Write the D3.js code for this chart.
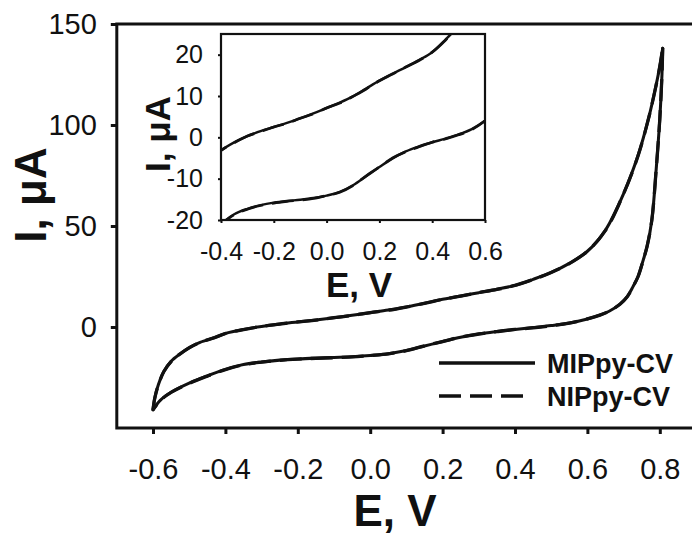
<!DOCTYPE html>
<html><head><meta charset="utf-8">
<script src="https://cdn.jsdelivr.net/npm/d3@7"></script>
<style>
body{margin:0;background:#fff}
svg{display:block}
text{font-family:"Liberation Sans",Arial,Helvetica,sans-serif;fill:#111}
</style>
</head><body>
<svg id="chart" width="692" height="535"></svg>
<script>
// ---- data (E in V, I in µA) ----
const potentialForward = [-0.600,-0.595,-0.585,-0.570,-0.550,-0.525,-0.500,-0.470,-0.430,-0.400,-0.350,-0.300,-0.250,-0.200,-0.150,-0.100,-0.050,0.000,0.050,0.100,0.150,0.200,0.250,0.300,0.350,0.400,0.450,0.500,0.550,0.600,0.650,0.700,0.740,0.770,0.790,0.800,0.808];
const mipForward = [-41,-35,-28.5,-22,-17,-13.3,-10.2,-7.6,-5.2,-3.2,-1.2,0.3,1.5,2.5,3.5,4.6,5.8,7.1,8.4,9.9,11.8,13.7,15.4,17.0,18.7,20.6,23.6,27.0,31.5,37.5,48,66,85,104,120,129,138];
const nipForward = [-41,-35.2,-28.6,-22,-17.1,-13.3,-10.3,-7.6,-5.3,-3.2,-1.3,0.3,1.4,2.5,3.4,4.6,5.7,7.1,8.3,9.9,11.7,13.7,15.3,17.0,18.6,20.6,23.5,27.0,31.4,37.5,47.8,66,84.8,104,119.8,129,138];
const potentialReverse = [0.808,0.806,0.800,0.790,0.778,0.765,0.754,0.740,0.726,0.710,0.690,0.660,0.635,0.600,0.550,0.500,0.450,0.400,0.350,0.300,0.250,0.200,0.150,0.100,0.050,0.000,-0.050,-0.100,-0.150,-0.200,-0.250,-0.300,-0.350,-0.400,-0.450,-0.500,-0.550,-0.580,-0.600];
const mipReverse = [138,125,103,78,53,40,33,25,20,15,11.3,7.8,6.0,4.0,2.0,0.7,-0.3,-1.2,-2.2,-3.4,-5.1,-7.2,-9.4,-11.6,-13.2,-14.1,-14.7,-15.1,-15.4,-15.8,-16.4,-17.3,-18.6,-21.0,-24.2,-27.8,-32.3,-36.3,-41];
const nipReverse = [138,125,103,78,53,40,33,25,20,15,11.3,7.8,5.9,4.0,1.9,0.6,-0.4,-1.2,-2.3,-3.5,-5.0,-7.2,-9.3,-11.7,-13.3,-14.1,-14.8,-15.2,-15.5,-15.9,-16.5,-17.4,-18.7,-21.1,-24.3,-27.9,-32.4,-36.4,-41];

const xTicks = [-0.6,-0.4,-0.2,0.0,0.2,0.4,0.6,0.8];
const yTicks = [0,50,100,150];
const insetXTicks = [-0.4,-0.2,0.0,0.2,0.4,0.6];
const insetYTicks = [-20,-10,0,10,20];
const seriesNames = ["MIPpy-CV","NIPpy-CV"];

// ---- drawing ----
const svg = d3.select("#chart");
const ink = "#111";

// main scales
const x = d3.scaleLinear().domain([-0.7, 0.9]).range([116.8, 696]);
const y = d3.scaleLinear().domain([-50, 150]).range([428, 24]);

const defs = svg.append("defs");
defs.append("clipPath").attr("id","mainClip").append("rect")
  .attr("x", x(-0.7)).attr("y", y(150)).attr("width", x(0.9)-x(-0.7)).attr("height", y(-50)-y(150));

// main axes
const xAxis = d3.axisBottom(x).tickValues(xTicks).tickSize(6).tickPadding(24);
const gx = svg.append("g").attr("transform", `translate(0,${y(-50)})`).call(xAxis);
const yAxis = d3.axisLeft(y).tickValues(yTicks).tickSize(6).tickPadding(14);
const gy = svg.append("g").attr("transform", `translate(${x(-0.7)},0)`).call(yAxis);
[gx, gy].forEach(g => {
  g.select(".domain").remove();
  g.selectAll(".tick line").attr("stroke", ink).attr("stroke-width", 3);
  g.selectAll(".tick text").attr("font-size", 29).attr("fill", ink)
    .text(d => (d < 0 ? "-" : "") + d3.format(g === gx ? ".1f" : "d")(Math.abs(d)));
});

// main frame
svg.append("rect")
  .attr("x", x(-0.7)).attr("y", y(150))
  .attr("width", x(0.9)-x(-0.7)).attr("height", y(-50)-y(150))
  .attr("fill","none").attr("stroke", ink).attr("stroke-width", 3);

// line generators
function branchPath(sx, sy, es, is){
  return d3.line().x((d,i)=>sx(es[i])).y(d=>sy(d)).curve(d3.curveCatmullRom.alpha(0.5))(is);
}
function drawLoop(g, sx, sy, width){
  // NIPpy (dashed) below, MIPpy (solid) on top
  [[nipForward, potentialForward],[nipReverse, potentialReverse]].forEach(([vals, es]) => {
    g.append("path").attr("d", branchPath(sx, sy, es, vals))
      .attr("fill","none").attr("stroke", ink).attr("stroke-width", width)
      .attr("stroke-dasharray","22,9").attr("stroke-linecap","butt");
  });
  [[mipForward, potentialForward],[mipReverse, potentialReverse]].forEach(([vals, es]) => {
    g.append("path").attr("d", branchPath(sx, sy, es, vals))
      .attr("fill","none").attr("stroke", ink).attr("stroke-width", width*0.92)
      .attr("stroke-linecap","round").attr("stroke-linejoin","round");
  });
}
drawLoop(svg.append("g").attr("clip-path","url(#mainClip)"), x, y, 3.3);

// axis titles
svg.append("text").attr("x", 395).attr("y", 526).attr("text-anchor","middle")
  .attr("font-size", 44).attr("font-weight","bold").text("E, V");
svg.append("text").attr("transform","translate(46,195) rotate(-90)").attr("text-anchor","middle")
  .attr("font-size", 44).attr("font-weight","bold").text("I, μA");

// legend
const legend = svg.append("g");
const legendRows = [{y: 363, dash: null}, {y: 396, dash: "22,9"}];
seriesNames.forEach((name, i) => {
  const r = legendRows[i];
  legend.append("line").attr("x1", 439).attr("x2", i === 0 ? 535 : 527)
    .attr("y1", r.y).attr("y2", r.y).attr("stroke", ink).attr("stroke-width", 3.6)
    .attr("stroke-dasharray", r.dash);
  legend.append("text").attr("x", 547).attr("y", r.y + 9.5)
    .attr("font-size", 27).attr("font-weight","bold").text(name);
});

// ---- inset ----
const ix = d3.scaleLinear().domain([-0.4, 0.6]).range([221, 485]);
const iy = d3.scaleLinear().domain([-20, 25]).range([220, 34]);
defs.append("clipPath").attr("id","insetClip").append("rect")
  .attr("x", ix(-0.4)).attr("y", iy(25)).attr("width", ix(0.6)-ix(-0.4)).attr("height", iy(-20)-iy(25));

svg.append("rect").attr("x", ix(-0.4)).attr("y", iy(25))
  .attr("width", ix(0.6)-ix(-0.4)).attr("height", iy(-20)-iy(25)).attr("fill","#fff");

drawLoop(svg.append("g").attr("clip-path","url(#insetClip)"), ix, iy, 2.7);

const ixAxis = d3.axisBottom(ix).tickValues(insetXTicks).tickSize(3).tickPadding(19);
const igx = svg.append("g").attr("transform", `translate(0,${iy(-20)})`).call(ixAxis);
const iyAxis = d3.axisLeft(iy).tickValues(insetYTicks).tickSize(3).tickPadding(15);
const igy = svg.append("g").attr("transform", `translate(${ix(-0.4)},0)`).call(iyAxis);
[igx, igy].forEach(g => {
  g.select(".domain").remove();
  g.selectAll(".tick line").attr("stroke", ink).attr("stroke-width", 2);
  g.selectAll(".tick text").attr("font-size", 25).attr("fill", ink)
    .text(d => (d < 0 ? "-" : "") + d3.format(g === igx ? ".1f" : "d")(Math.abs(d)));
});
svg.append("rect").attr("x", ix(-0.4)).attr("y", iy(25))
  .attr("width", ix(0.6)-ix(-0.4)).attr("height", iy(-20)-iy(25))
  .attr("fill","none").attr("stroke", ink).attr("stroke-width", 2.2);

svg.append("text").attr("x", 359).attr("y", 297).attr("text-anchor","middle")
  .attr("font-size", 35).attr("font-weight","bold").text("E, V");
svg.append("text").attr("transform","translate(170,134) rotate(-90)").attr("text-anchor","middle")
  .attr("font-size", 35).attr("font-weight","bold").text("I, μA");
</script>
</body></html>
